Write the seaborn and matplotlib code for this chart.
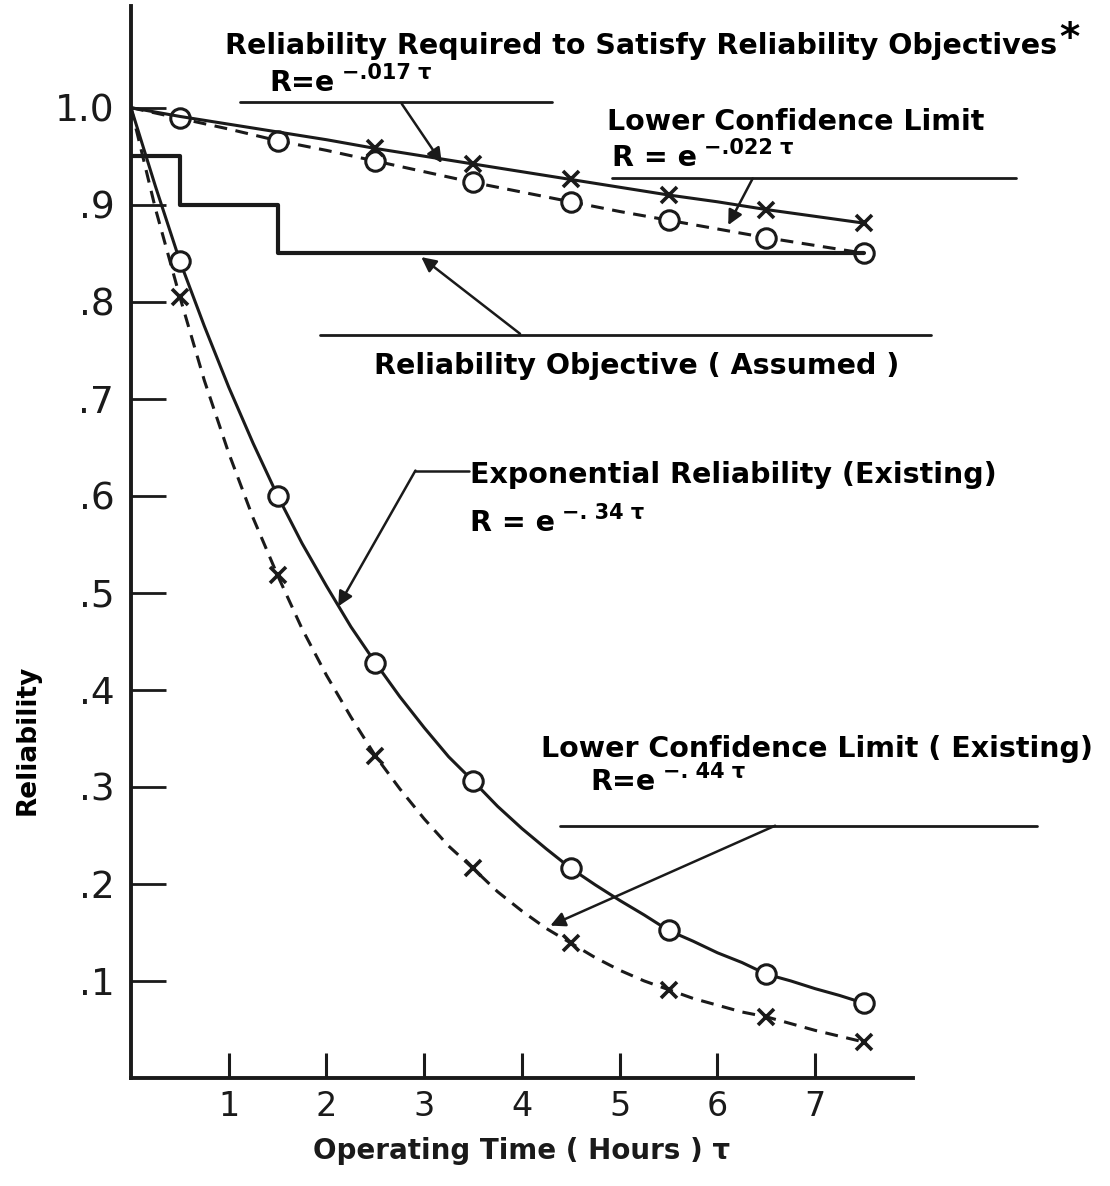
import matplotlib
matplotlib.use("Agg")
import matplotlib.pyplot as plt
import seaborn as sns

# values, lower curves every quarter hour
t_fine = [0.0, 0.25, 0.5, 0.75, 1.0, 1.25, 1.5, 1.75, 2.0, 2.25, 2.5, 2.75, 3.0, 3.25, 3.5, 3.75,
          4.0, 4.25, 4.5, 4.75, 5.0, 5.25, 5.5, 5.75, 6.0, 6.25, 6.5, 6.75, 7.0, 7.25, 7.5]
r_existing = [1.0, 0.919, 0.842, 0.775, 0.712, 0.654, 0.600, 0.551, 0.507, 0.465, 0.428, 0.393,
              0.361, 0.331, 0.306, 0.280, 0.257, 0.236, 0.216, 0.199, 0.183, 0.168, 0.152,
              0.141, 0.129, 0.119, 0.107, 0.100, 0.092, 0.085, 0.077]
r_existing_lcl = [1.0, 0.896, 0.805, 0.719, 0.644, 0.577, 0.518, 0.463, 0.415, 0.372, 0.332,
                  0.298, 0.267, 0.239, 0.216, 0.192, 0.172, 0.154, 0.139, 0.124, 0.111, 0.100,
                  0.091, 0.082, 0.075, 0.068, 0.063, 0.056, 0.049, 0.043, 0.037]

# upper curves every half hour
t_half = [0.0, 0.5, 1.0, 1.5, 2.0, 2.5, 3.0, 3.5, 4.0, 4.5, 5.0, 5.5, 6.0, 6.5, 7.0, 7.5]
r_required = [1.0, 0.991, 0.983, 0.975, 0.967, 0.958, 0.950, 0.942, 0.934, 0.926, 0.918, 0.910,
              0.903, 0.895, 0.888, 0.881]
r_required_lcl = [1.0, 0.989, 0.978, 0.966, 0.956, 0.945, 0.934, 0.923, 0.913, 0.903, 0.893,
                  0.884, 0.875, 0.866, 0.858, 0.850]

# reliability objective (assumed), step levels
obj_t = [0.0, 0.5, 1.5, 7.5]
obj_r = [0.95, 0.90, 0.85, 0.85]

y_ticks = [0.1, 0.2, 0.3, 0.4, 0.5, 0.6, 0.7, 0.8, 0.9, 1.0]
y_labels = [".1", ".2", ".3", ".4", ".5", ".6", ".7", ".8", ".9", "1.0"]
x_ticks = [1, 2, 3, 4, 5, 6, 7]
x_labels = ["1", "2", "3", "4", "5", "6", "7"]

sns.set_theme(style="white")
plt.rcParams["font.family"] = ["DejaVu Sans"]
plt.rcParams["text.color"] = "black"
plt.rcParams["axes.labelcolor"] = "black"
plt.rcParams["xtick.color"] = "black"
plt.rcParams["ytick.color"] = "black"

fig = plt.figure(figsize=(11.1, 11.86), dpi=100)
ax = fig.add_axes([0.118, 0.0911, 0.7045, 0.904])

lw = 2.2
circ = dict(marker="o", ms=14, mfc="white", mec="k", mew=2.2)
cross = dict(marker="x", ms=11, mec="k", mew=2.6)
dash = (0, (4.2, 2.8))

sns.lineplot(x=t_fine, y=r_existing, ax=ax, color="k", lw=lw,
             markevery=slice(2, None, 4), **circ)
sns.lineplot(x=t_fine, y=r_existing_lcl, ax=ax, color="k", lw=lw, linestyle=dash,
             markevery=slice(2, None, 4), **cross)
sns.lineplot(x=t_half, y=r_required_lcl, ax=ax, color="k", lw=lw, linestyle=dash,
             markevery=slice(1, None, 2), **circ)
sns.lineplot(x=t_half, y=r_required, ax=ax, color="k", lw=lw,
             markevery=slice(5, None, 2), **cross)
sns.lineplot(x=obj_t, y=obj_r, ax=ax, color="k", lw=3.0, drawstyle="steps-post")

ax.set_xlim(0, 8)
ax.set_ylim(0, 1.105)
sns.despine(ax=ax)
for s in ["left", "bottom"]:
    ax.spines[s].set_linewidth(2.8)
    ax.spines[s].set_color("k")

ax.set_xticks(x_ticks)
ax.set_xticklabels(x_labels)
ax.set_yticks(y_ticks)
ax.set_yticklabels(y_labels)
ax.tick_params(axis="x", direction="in", length=18, width=2.2, pad=9,
               labelsize=24, colors="k", labelcolor="k", bottom=True)
ax.tick_params(axis="y", direction="in", length=25, width=2.0, pad=12,
               labelsize=27, colors="k", labelcolor="k", left=True)
ax.set_xlabel("Operating Time ( Hours ) τ", fontsize=20, fontweight="bold",
              labelpad=10, color="k")
fig.text(0.025, 0.376, "Reliability", rotation=90, fontsize=19, fontweight="bold",
         ha="center", va="center")

fs = 20.5
arrow = dict(arrowstyle="-|>", lw=1.8, color="k", mutation_scale=22, shrinkA=0, shrinkB=0)


def label(x, y, s, ha="left"):
    return ax.text(x, y, s, fontsize=fs, fontweight="bold", va="center", ha=ha)


def equation(x, y, base, expo):
    t = label(x, y, base)
    ax.annotate(expo, xy=(1, 0.5), xycoords=t, xytext=(5, 0), textcoords="offset points",
                fontsize=15, fontweight="bold", va="bottom", ha="left")


def hline(x0, x1, y):
    ax.plot([x0, x1], [y, y], color="k", lw=2.0, clip_on=False)


def arrow_to(xy_from, xy_to):
    ax.annotate("", xy=xy_to, xytext=xy_from, arrowprops=arrow, annotation_clip=False)


# top labels
title = label(0.96, 1.064, "Reliability Required to Satisfy Reliability Objectives")
ax.annotate("*", xy=(1, 0.75), xycoords=title, xytext=(2, 0), textcoords="offset points",
            fontsize=28, fontweight="bold", va="center", ha="left")
equation(1.42, 1.025, "R=e", "−.017 τ")
hline(1.12, 4.31, 1.006)
arrow_to((2.77, 1.004), (3.18, 0.943))

label(4.87, 0.985, "Lower Confidence Limit")
equation(4.92, 0.948, "R = e", "−.022 τ")
hline(4.92, 9.05, 0.928)
arrow_to((6.36, 0.927), (6.11, 0.879))

# objective
hline(1.93, 8.18, 0.766)
label(5.17, 0.734, "Reliability Objective ( Assumed )", ha="center")
arrow_to((3.98, 0.767), (2.97, 0.846))

# exponential existing
label(3.47, 0.621, "Exponential Reliability (Existing)")
ax.plot([3.46, 2.91], [0.626, 0.626], color="k", lw=1.8)
arrow_to((2.91, 0.626), (2.12, 0.486))
equation(3.47, 0.572, "R = e", "−. 34 τ")

# lower confidence limit existing
label(4.19, 0.339, "Lower Confidence Limit ( Existing)")
equation(4.70, 0.305, "R=e", "−. 44 τ")
hline(4.39, 9.27, 0.260)
arrow_to((6.59, 0.260), (4.29, 0.157))

fig.savefig("out.png", dpi=100, facecolor="white")
